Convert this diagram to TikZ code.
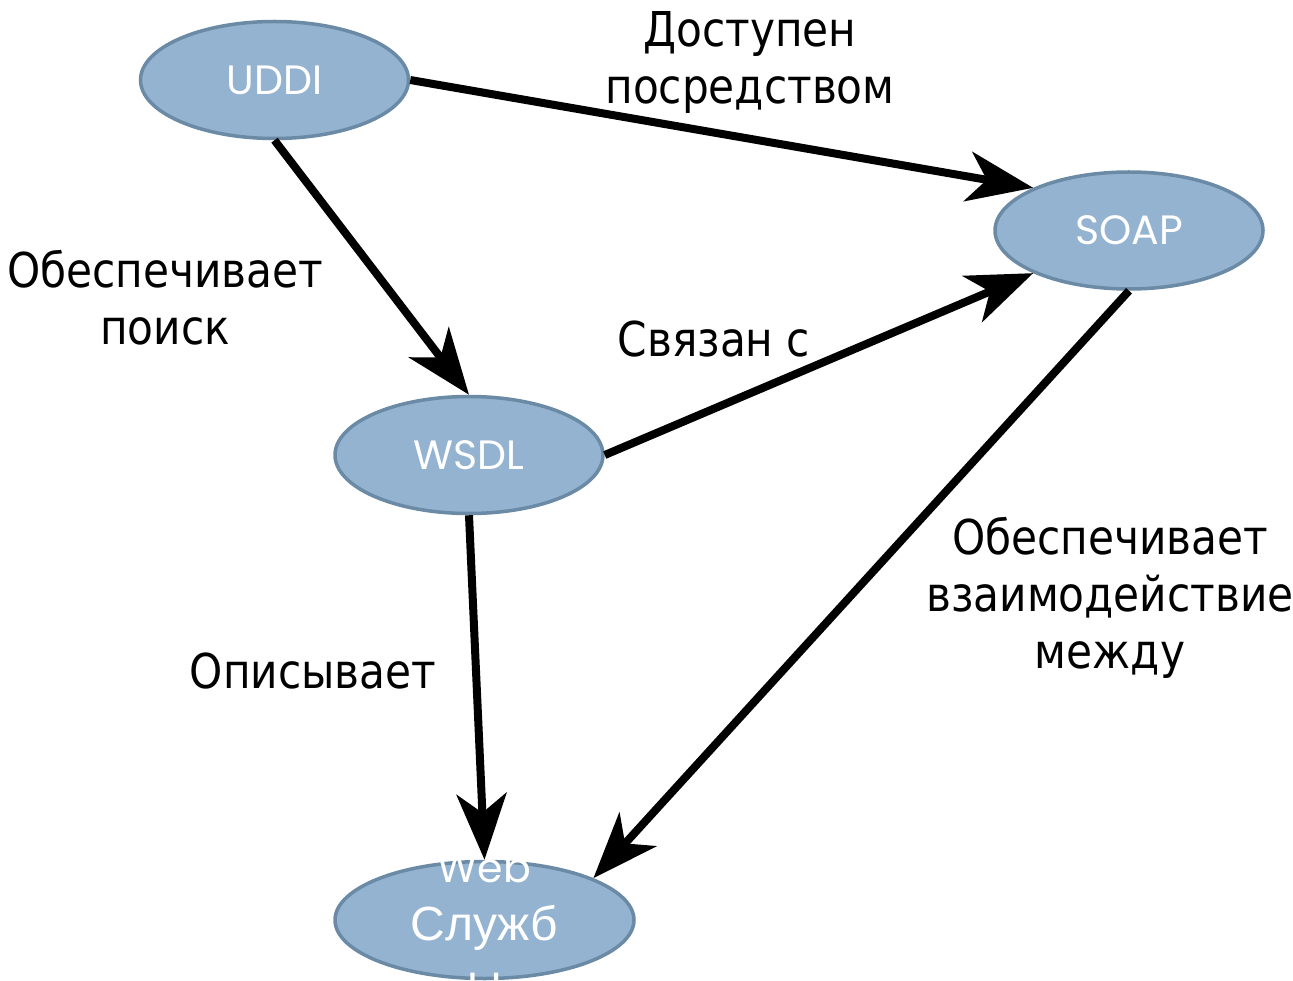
\documentclass[tikz,border=0pt]{standalone}
\usepackage{fontspec}
\setmainfont{DejaVu Sans}
\newfontfamily\lblfont[FakeStretch=0.88]{DejaVu Sans}
\newfontfamily\geofont{Poppins}
\newfontfamily\cyrnodefont{Liberation Sans}
\usetikzlibrary{shapes.geometric,arrows.meta}
\definecolor{nodefill}{HTML}{94B3D0}
\definecolor{nodeline}{HTML}{6A8AA5}
\begin{document}
\begin{tikzpicture}[x=1pt,y=-1pt,
  concept/.style={ellipse, draw=nodeline, fill=nodefill, line width=3.5pt,
    minimum width=268pt, minimum height=117pt, inner sep=0pt, text=white,
    font=\geofont\fontsize{41}{48}\selectfont},
  link/.style={line width=8pt, -{Stealth[length=66pt,width=50pt,inset=19pt]}},
  rel/.style={font=\lblfont\fontsize{48}{57}\selectfont, align=center,
    inner sep=0pt, anchor=base}
]
\useasboundingbox (0,0) rectangle (1293,981);

% concepts
\node[concept] (uddi) at (274.5,80) {UDDI};
\node[concept] (soap) at (1129,230.5) {SOAP};
\node[concept] (wsdl) at (469,455) {WSDL};
\node[concept, minimum width=299pt] (web) at (484.5,920) {};

% relations
\draw[link] (uddi.east) -- (soap.156);
\draw[link] (uddi.south) -- (wsdl.north);
\draw[link] (wsdl.east) -- (soap.204);
\draw[link] (soap.south) -- (web.21);
\draw[link] (wsdl.south) -- (web.north);

% service caption (overflows its ellipse); base = last line
\node[text=white, align=center, inner sep=0pt, anchor=base,
  font=\fontsize{48}{58}\selectfont] (webtext) at (484.5,998)
  {{\geofont\fontsize{41}{58}\selectfont Web}\\{\cyrnodefont Служб}\\{\cyrnodefont ы}};

% relation labels (anchored at the baseline of the last line)
\node[rel] (l1) at (750,104) {Доступен\\посредством};
\node[rel] (l2) at (165,345) {Обеспечивает\\поиск};
\node[rel] (l3) at (714,357) {Связан с};
\node[rel] (l4) at (313,688) {Описывает};
\node[rel] (l5) at (1110,668) {Обеспечивает\\взаимодействие\\между};
\end{tikzpicture}
\end{document}
